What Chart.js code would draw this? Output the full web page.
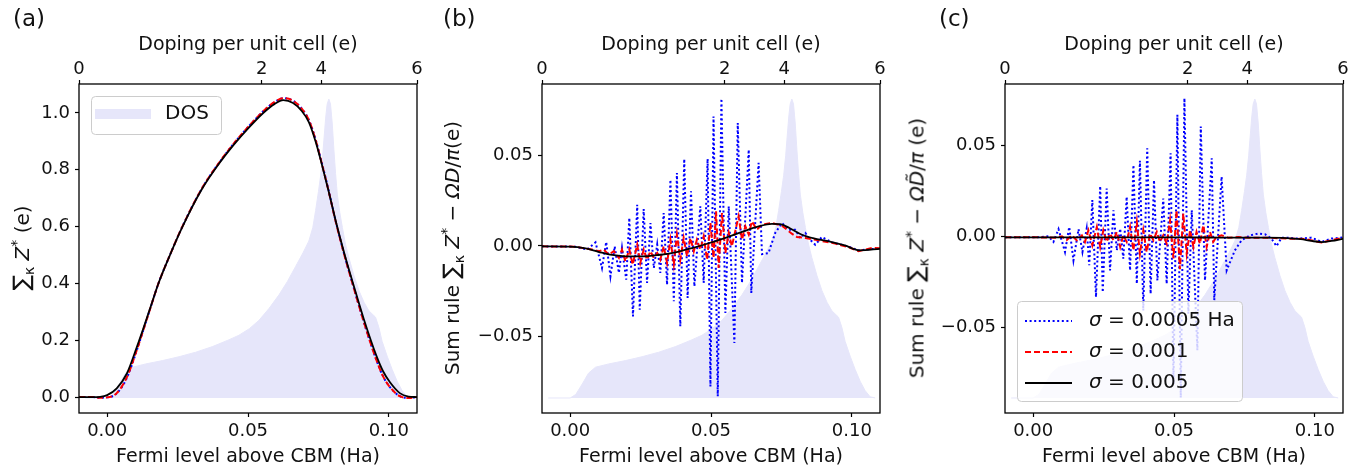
<!DOCTYPE html>
<html>
<head>
<meta charset="utf-8">
<script src="https://cdn.jsdelivr.net/npm/chart.js@4.4.1/dist/chart.umd.min.js"></script>
<style>
  body { margin: 0; background: #fff; }
  #fig { position: relative; width: 1370px; height: 472px; overflow: hidden; font-family: 'DejaVu Sans', sans-serif; color: #111; }
  .panel { position: absolute; top: 0; }
  .plabel { position: absolute; top: 7px; font-size: 23px; line-height: 1; }
  .ytitle { position: absolute; top: 248px; transform: translate(-50%, -50%) rotate(-90deg); white-space: nowrap; font-size: 20px; line-height: 1; }
  .ytitle .sum { font-size: 1.15em; }
  .ytitle sub, .ytitle sup { font-size: 0.7em; line-height: 0; }
</style>
</head>
<body>
<div id="fig">
  <canvas id="panelA" class="panel" style="left:0px" width="430" height="472"></canvas>
  <canvas id="panelB" class="panel" style="left:430px" width="465" height="472"></canvas>
  <canvas id="panelC" class="panel" style="left:895px" width="475" height="472"></canvas>
  <div class="plabel" style="left:13px">(a)</div>
  <div class="plabel" style="left:443px">(b)</div>
  <div class="plabel" style="left:939px">(c)</div>
  <div class="ytitle" style="left:21px"><span class="sum">∑</span><sub>κ</sub> <i>Z</i><sup>*</sup> (e)</div>
  <div class="ytitle" style="left:451px">Sum rule <span class="sum">∑</span><sub>κ</sub> <i>Z</i><sup>*</sup> − <i>ΩD</i>/<i>π</i>(e)</div>
  <div class="ytitle" style="left:916px">Sum rule <span class="sum">∑</span><sub>κ</sub> <i>Z</i><sup>*</sup> − <i>Ω</i><i>D&#771;</i>/<i>π</i> (e)</div>
</div>
<script>
Chart.defaults.font.family = "'DejaVu Sans', sans-serif";
Chart.defaults.color = '#111';

// axis ticks
const energyTicks = [0, 0.05, 0.10];
const zTicks = [0, 0.2, 0.4, 0.6, 0.8, 1.0];
const sumRuleTicks = [-0.05, 0, 0.05];
const dopingTicks = [0, 2, 4, 6];
const dopingTickEnergy = [-0.01, 0.0549, 0.0760, 0.11];

// density of states (arb. units, peak = 1)
const dosEnergy = [-0.0078, 0.0, 0.002, 0.0043, 0.0065, 0.009, 0.0137, 0.0196, 0.0255, 0.0314, 0.0374, 0.0433, 0.0468, 0.0505, 0.0539, 0.0575, 0.061, 0.064, 0.0669, 0.0695, 0.0716, 0.073, 0.074, 0.075, 0.0758, 0.0765, 0.077, 0.0776, 0.0781, 0.0787, 0.0793, 0.0799, 0.0805, 0.0811, 0.0817, 0.0826, 0.0835, 0.0846, 0.0858, 0.0876, 0.0894, 0.0912, 0.0929, 0.0953, 0.0965, 0.0976, 0.0994, 0.1012, 0.103, 0.1047, 0.1065, 0.1083];
const dosValue = [0, 0, 0.012, 0.047, 0.083, 0.103, 0.114, 0.125, 0.138, 0.153, 0.172, 0.195, 0.21, 0.232, 0.26, 0.3, 0.345, 0.39, 0.44, 0.485, 0.525, 0.57, 0.627, 0.69, 0.745, 0.81, 0.87, 0.94, 0.983, 1.0, 0.983, 0.92, 0.83, 0.75, 0.682, 0.62, 0.571, 0.515, 0.47, 0.41, 0.359, 0.32, 0.292, 0.27, 0.235, 0.19, 0.14, 0.095, 0.055, 0.025, 0.004, 0];

// (a) sum of Born effective charges
const aEnergy = [-0.01, -0.005, -0.0025, 0.0, 0.0034, 0.007, 0.0105, 0.0128, 0.0155, 0.0182, 0.0225, 0.0265, 0.0335, 0.0407, 0.0455, 0.0495, 0.0554, 0.0595, 0.0625, 0.066, 0.069, 0.0716, 0.074, 0.0758, 0.0785, 0.0814, 0.0845, 0.0873, 0.0911, 0.0956, 0.098, 0.1004, 0.1039, 0.107, 0.11];
const aSigma005 = [0, 0, 0.001, 0.007, 0.031, 0.083, 0.175, 0.24, 0.32, 0.40, 0.505, 0.595, 0.73, 0.835, 0.895, 0.94, 1.0, 1.032, 1.045, 1.035, 1.008, 0.968, 0.90, 0.835, 0.73, 0.61, 0.495, 0.40, 0.275, 0.145, 0.09, 0.052, 0.014, 0.002, 0];
const aSigma001 = [0, 0, -0.002, -0.001, 0.014, 0.07, 0.165, 0.235, 0.318, 0.40, 0.505, 0.596, 0.732, 0.838, 0.899, 0.945, 1.006, 1.039, 1.052, 1.043, 1.016, 0.975, 0.905, 0.838, 0.73, 0.607, 0.49, 0.393, 0.265, 0.13, 0.072, 0.035, 0.003, -0.003, 0];
const aSigma0005 = [0, 0, -0.002, -0.001, 0.013, 0.068, 0.164, 0.235, 0.318, 0.40, 0.505, 0.596, 0.732, 0.838, 0.899, 0.945, 1.006, 1.039, 1.052, 1.043, 1.016, 0.976, 0.907, 0.84, 0.733, 0.608, 0.49, 0.393, 0.265, 0.13, 0.072, 0.035, 0.003, -0.003, 0];

// (b) sum rule with D
const bEnergy005 = [-0.01, 0.0, 0.005, 0.01, 0.0142, 0.0196, 0.0255, 0.0314, 0.0374, 0.0433, 0.0492, 0.0551, 0.061, 0.0669, 0.0716, 0.0745, 0.078, 0.0823, 0.0862, 0.0922, 0.0975, 0.1028, 0.11];
const bSigma005 = [-0.0002, -0.0004, -0.0012, -0.0032, -0.0048, -0.0057, -0.0058, -0.0050, -0.0035, -0.0012, 0.0015, 0.0045, 0.0078, 0.0108, 0.0122, 0.0121, 0.0098, 0.0062, 0.0043, 0.0024, 0.0003, -0.0024, -0.0016];
const bEnergy001 = [-0.01, 0.0019, 0.0078, 0.0102, 0.0119, 0.0137, 0.0155, 0.0173, 0.0184, 0.0196, 0.021, 0.0222, 0.0238, 0.0249, 0.0261, 0.0273, 0.0285, 0.0297, 0.0309, 0.032, 0.0332, 0.0344, 0.0356, 0.0368, 0.0379, 0.0391, 0.0403, 0.0415, 0.0427, 0.0439, 0.045, 0.0462, 0.0474, 0.0486, 0.0498, 0.0509, 0.0518, 0.0527, 0.0539, 0.0551, 0.0563, 0.0574, 0.0598, 0.061, 0.0622, 0.0634, 0.0645, 0.0663, 0.0681, 0.0716, 0.0752, 0.0787, 0.0805, 0.0835, 0.0882, 0.0941, 0.0988, 0.1024, 0.1047, 0.1071, 0.11];
const bSigma001 = [-0.0002, -0.0004, -0.0020, -0.0029, -0.0020, -0.0048, -0.0029, -0.0066, -0.0020, -0.0085, -0.0020, -0.0103, 0.0007, -0.0094, -0.0020, -0.0076, -0.0029, -0.0066, -0.0039, -0.0076, -0.0002, -0.0094, 0.0035, -0.0103, 0.0063, -0.0076, 0.0044, -0.0057, 0.0044, -0.0029, 0.0035, -0.0020, 0.0053, -0.0076, 0.0127, -0.0066, 0.0192, -0.0122, 0.0182, -0.0039, 0.0072, -0.0002, 0.0164, 0.0035, 0.0109, 0.0063, 0.0136, 0.0090, 0.0118, 0.0127, 0.0112, 0.0068, 0.0050, 0.0044, 0.0031, 0.0013, -0.0006, -0.0029, -0.0020, -0.0011, -0.0013];
const bEnergy0005 = [-0.01, 0.0019, 0.006, 0.009, 0.0113, 0.0128, 0.0143, 0.0158, 0.0173, 0.0184, 0.0199, 0.021, 0.0223, 0.0238, 0.0247, 0.0261, 0.0273, 0.0285, 0.0297, 0.0309, 0.032, 0.0332, 0.0344, 0.0356, 0.0368, 0.0379, 0.0391, 0.0405, 0.0417, 0.0429, 0.0441, 0.0462, 0.0474, 0.0488, 0.0498, 0.0509, 0.0524, 0.0537, 0.0551, 0.0563, 0.0583, 0.0595, 0.061, 0.0634, 0.0643, 0.0669, 0.0681, 0.0704, 0.0728, 0.0752, 0.0775, 0.0799, 0.0817, 0.0835, 0.0852, 0.087, 0.0894, 0.0929, 0.0988, 0.1024, 0.1059, 0.11];
const bSigma0005 = [-0.0002, -0.0004, -0.0020, 0.0020, -0.0122, 0.0022, -0.0168, -0.0002, -0.0149, -0.0011, -0.0186, 0.0155, -0.0389, 0.0228, -0.0352, 0.0204, -0.0204, 0.0127, -0.0122, 0.0007, -0.0149, 0.0182, -0.0214, 0.0366, -0.0306, 0.0403, -0.0444, 0.0481, -0.0287, 0.0302, -0.0223, 0.0219, -0.0204, 0.0481, -0.0776, 0.0716, -0.0831, 0.0814, -0.0370, 0.0219, -0.0536, 0.0680, -0.0204, 0.0532, -0.0260, 0.0459, -0.0045, -0.0040, 0.0072, 0.0127, 0.0090, 0.0090, 0.0044, 0.0072, 0.0035, 0.0007, 0.0050, 0.0020, -0.0003, -0.0025, -0.0018, -0.0015];

// (c) sum rule with D tilde
const cEnergy005 = [-0.01, 0.02, 0.04, 0.06, 0.08, 0.09, 0.095, 0.0988, 0.1024, 0.1059, 0.11];
const cSigma005 = [-0.0004, -0.0004, -0.0004, -0.0005, -0.0006, -0.0008, -0.0014, -0.0024, -0.0030, -0.0024, -0.0012];
const cEnergy001 = [-0.01, 0.0019, 0.0078, 0.0102, 0.0119, 0.0137, 0.0155, 0.0173, 0.0184, 0.0196, 0.021, 0.0226, 0.0238, 0.0249, 0.0261, 0.0273, 0.0285, 0.0297, 0.0309, 0.032, 0.0332, 0.0344, 0.0356, 0.0368, 0.0379, 0.0391, 0.0403, 0.0415, 0.0427, 0.0439, 0.045, 0.0462, 0.0474, 0.0486, 0.0498, 0.0509, 0.0521, 0.0533, 0.0545, 0.0557, 0.0569, 0.058, 0.0592, 0.0604, 0.0616, 0.0628, 0.0639, 0.0651, 0.0669, 0.0693, 0.0728, 0.0764, 0.0799, 0.0846, 0.0905, 0.0965, 0.1024, 0.1059, 0.11];
const cSigma001 = [-0.0004, -0.0004, -0.0006, 0.0002, -0.0020, 0.0007, -0.0020, 0.0007, -0.0029, 0.0035, -0.0048, 0.0053, -0.0057, 0.0035, -0.0029, 0.0017, -0.0020, 0.0026, -0.0057, 0.0007, -0.0029, 0.0053, -0.0076, 0.0081, -0.0094, 0.0035, -0.0085, 0.0017, -0.0020, 0.0026, -0.0029, 0.0007, -0.0039, 0.0090, -0.0120, 0.0145, -0.0180, 0.0127, -0.0094, 0.0035, -0.0057, 0.0026, -0.0039, 0.0063, -0.0057, 0.0026, -0.0029, -0.0002, 0.0007, -0.0006, -0.0002, -0.0006, -0.0006, -0.0007, -0.0011, -0.0013, -0.0033, -0.0020, -0.0007];
const cEnergy0005 = [-0.01, 0.0019, 0.0054, 0.0072, 0.009, 0.0113, 0.0128, 0.0143, 0.0161, 0.0175, 0.019, 0.0199, 0.021, 0.0223, 0.0238, 0.0247, 0.0261, 0.0273, 0.0285, 0.0297, 0.0309, 0.032, 0.0332, 0.0344, 0.0356, 0.0368, 0.0379, 0.0391, 0.0405, 0.0417, 0.0429, 0.0441, 0.0462, 0.0474, 0.0488, 0.0498, 0.0512, 0.0524, 0.0537, 0.0551, 0.0563, 0.0583, 0.0595, 0.061, 0.0634, 0.0643, 0.0669, 0.0687, 0.0716, 0.074, 0.077, 0.0799, 0.0823, 0.0846, 0.0864, 0.0882, 0.0905, 0.0941, 0.0988, 0.1024, 0.1059, 0.11];
const cSigma0005 = [-0.0004, -0.0004, 0.0002, -0.0029, 0.0041, -0.0085, 0.0053, -0.0131, 0.0041, -0.0085, 0.0044, -0.0158, 0.0201, -0.0333, 0.0278, -0.0306, 0.0265, -0.0186, 0.0145, -0.0076, 0.0044, -0.0122, 0.0219, -0.0186, 0.0394, -0.0260, 0.0418, -0.0407, 0.0486, -0.0315, 0.0311, -0.0241, 0.0210, -0.0260, 0.0459, -0.0812, 0.0670, -0.0886, 0.0762, -0.0425, 0.0145, -0.0626, 0.0606, -0.0241, 0.0431, -0.0350, 0.0330, -0.0186, -0.0076, -0.0020, 0.0007, 0.0017, 0.0013, -0.0011, -0.0053, -0.0006, -0.0006, -0.0011, -0.0006, -0.0029, -0.0011, -0.0004];

function xy(xs, ys) {
    return xs.map((x, i) => ({x: x, y: ys[i]}));
}

function curve(label, xs, ys, style, smooth) {
    return Object.assign({
        label: label,
        data: xy(xs, ys),
        pointRadius: 0,
        fill: false,
        tension: 0,
        cubicInterpolationMode: smooth ? 'monotone' : 'default'
    }, style);
}

const solid005 = {borderColor: '#000000', borderWidth: 1.8};
const dashed001 = {borderColor: '#ff0000', borderWidth: 2, borderDash: [6, 3]};
const dotted0005 = {borderColor: '#0000ff', borderWidth: 2, borderDash: [2, 2.6]};

function dosSet() {
    return {
        label: 'DOS',
        data: xy(dosEnergy, dosValue),
        yAxisID: 'yDos',
        pointRadius: 0,
        tension: 0,
        fill: 'origin',
        backgroundColor: '#e6e6fa',
        borderColor: '#e6e6fa',
        borderWidth: 1
    };
}

// axes frame on all four sides
const frame = {
    id: 'frame',
    afterDatasetsDraw(chart) {
        const ctx = chart.ctx, a = chart.chartArea;
        ctx.save();
        ctx.strokeStyle = '#000';
        ctx.lineWidth = 1.3;
        ctx.strokeRect(a.left, a.top, a.right - a.left, a.bottom - a.top);
        ctx.restore();
    }
};

function drawLabel(ctx, text, x, y, size) {
    let rest = text;
    if (text[0] === 'σ') {
        ctx.font = 'italic ' + size + "px 'DejaVu Sans'";
        ctx.fillText('σ', x, y);
        x += ctx.measureText('σ').width;
        rest = text.slice(1);
    }
    ctx.font = size + "px 'DejaVu Sans'";
    ctx.fillText(rest, x, y);
}

// legend box inside the axes
const boxLegend = {
    id: 'boxLegend',
    afterDatasetsDraw(chart, args, o) {
        if (!o || !o.items) return;
        const ctx = chart.ctx, a = chart.chartArea;
        const x0 = a.left + o.inset;
        const y0 = o.corner === 'top' ? a.top + o.inset : a.bottom - o.inset - o.height;
        ctx.save();
        ctx.beginPath();
        ctx.roundRect(x0 + 0.5, y0 + 0.5, o.width, o.height, 4);
        ctx.fillStyle = 'rgba(255,255,255,0.8)';
        ctx.fill();
        ctx.strokeStyle = '#cccccc';
        ctx.lineWidth = 1;
        ctx.stroke();
        o.items.forEach((idx, i) => {
            const ds = chart.data.datasets[idx];
            const cy = y0 + o.rowStart + i * o.rowGap;
            const hx = x0 + o.handleLeft;
            if (ds.fill) {
                ctx.fillStyle = ds.backgroundColor;
                ctx.fillRect(hx, cy - 5, o.handleLen, 10);
            } else {
                ctx.beginPath();
                ctx.setLineDash(ds.borderDash || []);
                ctx.strokeStyle = ds.borderColor;
                ctx.lineWidth = ds.borderWidth;
                ctx.moveTo(hx, cy);
                ctx.lineTo(hx + o.handleLen, cy);
                ctx.stroke();
                ctx.setLineDash([]);
            }
            ctx.fillStyle = '#111';
            ctx.textBaseline = 'middle';
            ctx.textAlign = 'left';
            drawLabel(ctx, ds.label, hx + o.handleLen + o.textGap, cy, o.fontSize);
        });
        ctx.restore();
    }
};

function signed(v) {
    if (Math.abs(v) < 1e-9) return '0.00';
    return (v < 0 ? '\u2212' : '') + Math.abs(v).toFixed(2);
}

function makePanel(id, p) {
    return new Chart(document.getElementById(id), {
        type: 'line',
        data: {datasets: p.datasets},
        options: {
            responsive: false,
            animation: false,
            layout: {padding: {left: 0, right: p.padRight, top: 0, bottom: 0}},
            plugins: {legend: {display: false}, tooltip: {enabled: false}, boxLegend: p.legend},
            scales: {
                x: {
                    type: 'linear', position: 'bottom', min: -0.01, max: 0.11,
                    afterBuildTicks: s => { s.ticks = energyTicks.map(v => ({value: v})); },
                    afterFit: s => { s.height = 59; },
                    ticks: {autoSkip: false, maxRotation: 0, padding: 4, font: {size: 18}, color: '#111',
                            callback: v => v.toFixed(2)},
                    grid: {drawOnChartArea: false, tickLength: 4, tickWidth: 1.2, tickColor: '#000'},
                    border: {display: false},
                    title: {display: true, text: 'Fermi level above CBM (Ha)', font: {size: 19}, color: '#111',
                            padding: {top: 0, bottom: 4}}
                },
                xTop: {
                    type: 'linear', position: 'top', min: -0.01, max: 0.11,
                    afterBuildTicks: s => { s.ticks = dopingTickEnergy.map(v => ({value: v})); },
                    afterFit: s => { s.height = 84; },
                    ticks: {autoSkip: false, maxRotation: 0, padding: 0, font: {size: 18}, color: '#111',
                            callback: (v, i) => String(dopingTicks[i])},
                    grid: {drawOnChartArea: false, tickLength: 4, tickWidth: 1.2, tickColor: '#000'},
                    border: {display: false},
                    title: {display: true, text: 'Doping per unit cell (e)', font: {size: 19}, color: '#111',
                            padding: {top: 34, bottom: 0}}
                },
                y: {
                    position: 'left', min: p.yMin, max: p.yMax,
                    afterBuildTicks: s => { s.ticks = p.yTicks.map(v => ({value: v})); },
                    afterFit: s => { s.width = p.yWidth; },
                    ticks: {autoSkip: false, padding: 5, font: {size: 18}, color: '#111', callback: p.yFormat},
                    grid: {drawOnChartArea: false, tickLength: 4, tickWidth: 1.2, tickColor: '#000'},
                    border: {display: false}
                },
                yDos: {display: false, min: -0.0502, max: 1.0502}
            }
        },
        plugins: [frame, boxLegend]
    });
}

makePanel('panelA', {
    padRight: 13, yWidth: 79, yMin: -0.056, yMax: 1.102, yTicks: zTicks,
    yFormat: v => v.toFixed(1),
    datasets: [
        curve('σ = 0.005', aEnergy, aSigma005, solid005, true),
        curve('σ = 0.001', aEnergy, aSigma001, dashed001, true),
        curve('σ = 0.0005 Ha', aEnergy, aSigma0005, dotted0005, true),
        dosSet()
    ],
    legend: {corner: 'top', inset: 12, width: 130, height: 38, rowStart: 18, rowGap: 31,
             handleLeft: 4, handleLen: 56, textGap: 14, fontSize: 20, items: [3]}
});

makePanel('panelB', {
    padRight: 15, yWidth: 112, yMin: -0.0923, yMax: 0.0895, yTicks: sumRuleTicks,
    yFormat: signed,
    datasets: [
        curve('σ = 0.005', bEnergy005, bSigma005, solid005, true),
        curve('σ = 0.001', bEnergy001, bSigma001, dashed001, false),
        curve('σ = 0.0005 Ha', bEnergy0005, bSigma0005, dotted0005, false),
        dosSet()
    ]
});

makePanel('panelC', {
    padRight: 27, yWidth: 110, yMin: -0.0971, yMax: 0.0840, yTicks: sumRuleTicks,
    yFormat: signed,
    datasets: [
        curve('σ = 0.005', cEnergy005, cSigma005, solid005, true),
        curve('σ = 0.001', cEnergy001, cSigma001, dashed001, false),
        curve('σ = 0.0005 Ha', cEnergy0005, cSigma0005, dotted0005, false),
        dosSet()
    ],
    legend: {corner: 'bottom', inset: 12, width: 225, height: 100, rowStart: 20, rowGap: 31,
             handleLeft: 8, handleLen: 47, textGap: 17, fontSize: 20, items: [2, 1, 0]}
});
</script>
</body>
</html>
